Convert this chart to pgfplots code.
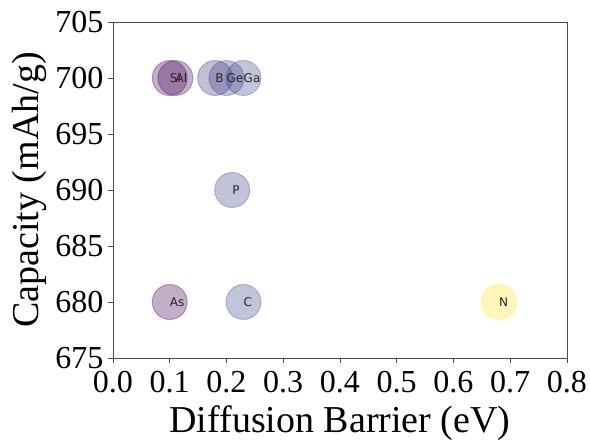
\documentclass[border=0pt]{standalone}
\usepackage{pgfplots}
\pgfplotsset{compat=1.18}
\usepackage{pgfplotstable}
\usepackage{fontspec}
\setmainfont{Liberation Serif}
\newfontfamily\labfont{DejaVu Sans}
\pgfplotstableread{
x y label
0.10 700 Si
0.11 700 Al
0.18 700 B
0.20 700 Ge
0.23 700 Ga
0.21 690 P
0.10 680 As
0.23 680 C
0.68 680 N
}\data
\begin{document}
\begin{tikzpicture}
\useasboundingbox (0,0) rectangle (590pt,440pt);
\begin{axis}[
  at={(113pt,82pt)}, anchor=south west,
  scale only axis,
  width=454pt, height=336pt,
  xmin=0, xmax=0.8, ymin=675, ymax=705,
  xtick={0,0.1,...,0.8},
  ytick={675,680,...,705},
  xticklabel style={yshift=-5pt, /pgf/number format/.cd,fixed,fixed zerofill,precision=1},
  /pgf/number format/assume math mode=true,
  tick label style={font=\fontsize{32}{32}\selectfont},
  label style={font=\fontsize{38}{38}\selectfont},
  xlabel={Diffusion Barrier (eV)},
  ylabel={Capacity (mAh/g)},
  tick pos=left,
  tick align=outside,
  major tick length=5pt,
  axis line style={black!70, line width=0.8pt},
  every tick/.style={black!70, line width=0.8pt},
  colormap/viridis,
  point meta min=0.1, point meta max=0.68,
  xlabel style={yshift=-6pt},
  ylabel style={yshift=2pt},
  yticklabel style={xshift=-1pt},
]
\addplot[scatter, only marks, mark=*, mark size=17.5pt,
  scatter src=x,
  scatter/use mapped color={draw=mapped color, fill=mapped color},
  fill opacity=0.32, draw opacity=0.32, line width=1pt]
  table[x=x, y=y] {\data};
\addplot[only marks, mark=none, point meta=explicit symbolic,
  nodes near coords,
  every node near coord/.style={anchor=west, xshift=0pt, inner sep=0pt, font=\labfont\fontsize{12}{12}\selectfont, text=black!85}]
  table[x=x, y=y, meta=label] {\data};
\end{axis}
\end{tikzpicture}
\end{document}
